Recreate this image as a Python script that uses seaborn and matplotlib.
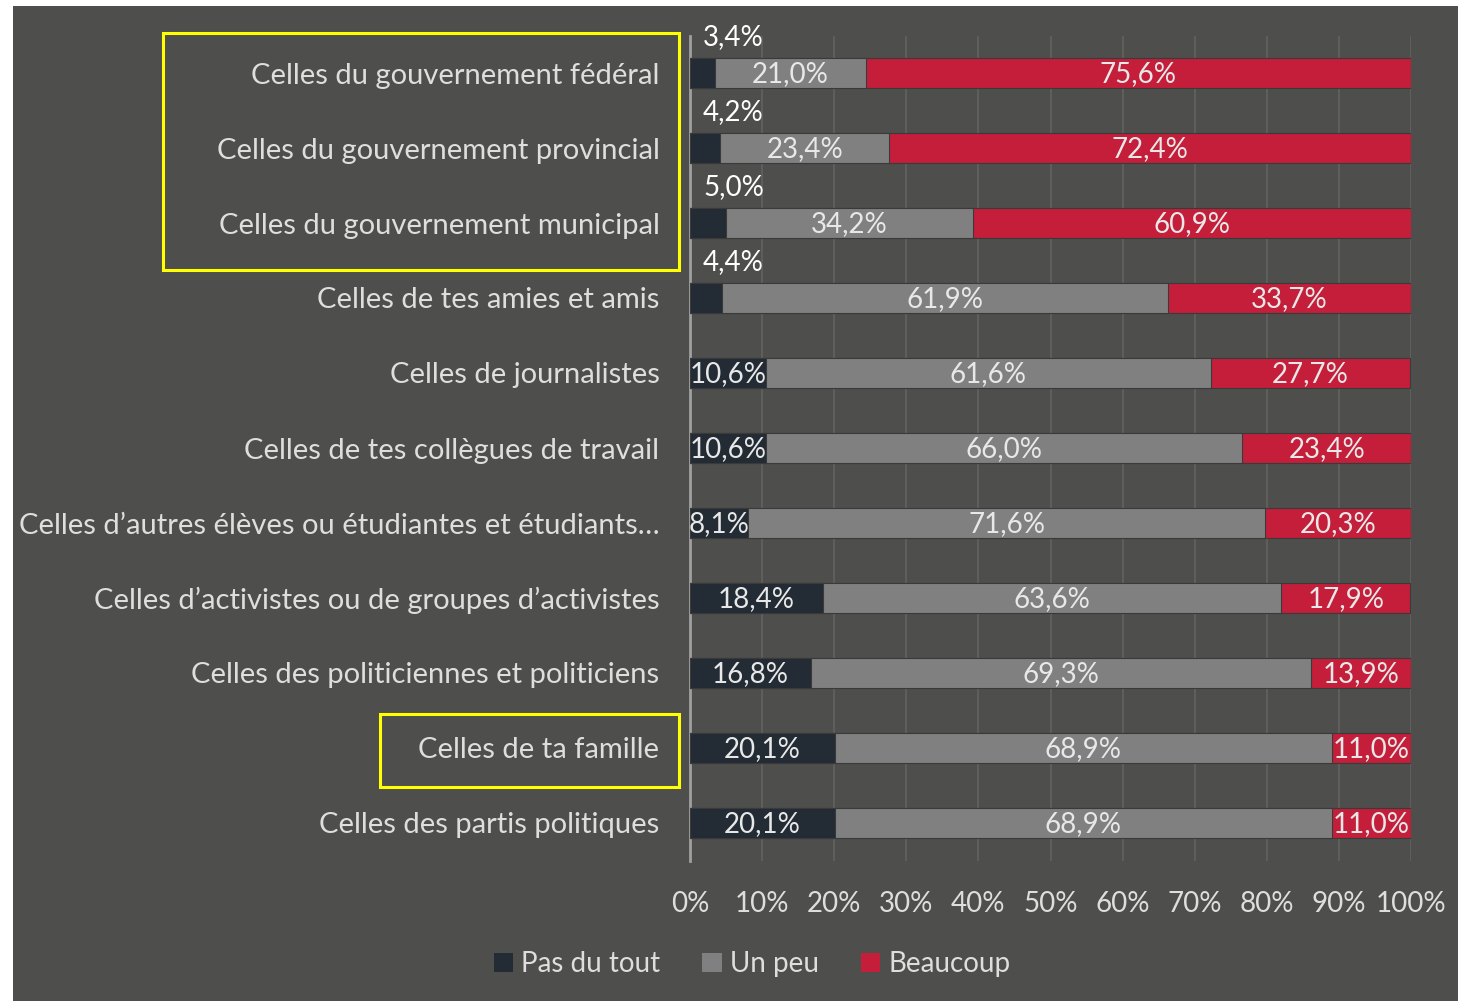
import matplotlib
matplotlib.use("Agg")
import matplotlib.pyplot as plt
from matplotlib.patches import Rectangle, Patch
import numpy as np
import pandas as pd
import seaborn as sns

# data
categories = [
    "Celles du gouvernement fédéral",
    "Celles du gouvernement provincial",
    "Celles du gouvernement municipal",
    "Celles de tes amies et amis",
    "Celles de journalistes",
    "Celles de tes collègues de travail",
    "Celles d’autres élèves ou étudiantes et étudiants…",
    "Celles d’activistes ou de groupes d’activistes",
    "Celles des politiciennes et politiciens",
    "Celles de ta famille",
    "Celles des partis politiques",
]
pas_du_tout = [3.4, 4.2, 5.0, 4.4, 10.6, 10.6, 8.1, 18.4, 16.8, 20.1, 20.1]
un_peu = [21.0, 23.4, 34.2, 61.9, 61.6, 66.0, 71.6, 63.6, 69.3, 68.9, 68.9]
beaucoup = [75.6, 72.4, 60.9, 33.7, 27.7, 23.4, 20.3, 17.9, 13.9, 11.0, 11.0]
series = ["Pas du tout", "Un peu", "Beaucoup"]
xticks = [0, 10, 20, 30, 40, 50, 60, 70, 80, 90, 100]

# settings
BG = "#4e4e4c"
TXT = "#dedede"
colors = ["#232b35", "#808080", "#c41e3a"]

sns.set_style("ticks")
plt.rcParams["font.family"] = ["Lato", "DejaVu Sans"]

df = pd.DataFrame({"cat": categories, "p": pas_du_tout, "u": un_peu, "b": beaucoup})
df["c1"] = df["p"]
df["c2"] = df["p"] + df["u"]
df["c3"] = df["p"] + df["u"] + df["b"]

fig = plt.figure(figsize=(14.58, 10.01), dpi=100)
fig.patch.set_facecolor("white")
fig.add_artist(Rectangle((13 / 1458, 0), 1, 1 - 6 / 1001, transform=fig.transFigure,
                         facecolor=BG, edgecolor="none", zorder=0))
ax = fig.add_axes([690 / 1458, 1 - 860.5 / 1001, 721 / 1458, 825 / 1001])
ax.set_facecolor(BG)

# stacked bars by overlaying cumulative totals
for col, c in zip(["c3", "c2", "c1"], colors[::-1]):
    sns.barplot(data=df, x=col, y="cat", orient="h", color=c, width=0.4,
                saturation=1, ax=ax, edgecolor="#3a3a3a", linewidth=0.8, zorder=3)

ax.set_xlim(0, 100)
ax.set_ylim(len(categories) - 0.5, -0.5)
ax.set_xticks(xticks)
ax.set_xticklabels([f"{t}%" for t in xticks])
ax.xaxis.grid(True, color="#62625f", linewidth=1.2, zorder=0)
ax.set_axisbelow(True)
ax.set_xlabel("")
ax.set_ylabel("")
for s in ["top", "right", "bottom"]:
    ax.spines[s].set_visible(False)
ax.spines["left"].set_color("#a0a0a0")
ax.spines["left"].set_linewidth(2)
ax.tick_params(axis="x", length=0, pad=22, labelsize=20, labelcolor=TXT)
ax.tick_params(axis="y", length=0, pad=22, labelsize=21, labelcolor=TXT)

# value labels
fmt = lambda v: f"{v:.1f}%".replace(".", ",")
for i in range(len(categories)):
    starts = [0, df["c1"][i], df["c2"][i]]
    vals = [df["p"][i], df["u"][i], df["b"][i]]
    for s, v in zip(starts, vals):
        if v < 6:
            ax.text(1.8, i - 0.48, fmt(v), ha="left", va="center",
                    fontsize=20, color="white", zorder=5)
        else:
            ax.text(s + v / 2, i + 0.02, fmt(v), ha="center", va="center",
                    fontsize=20, color="#e8e8e8", zorder=5)

# highlight boxes
fig.add_artist(Rectangle((163 / 1458, 1 - 270 / 1001), 516 / 1458, 237 / 1001,
                         transform=fig.transFigure, fill=False,
                         edgecolor="#ffff00", linewidth=2.2, zorder=6))
fig.add_artist(Rectangle((380 / 1458, 1 - 787 / 1001), 299 / 1458, 73 / 1001,
                         transform=fig.transFigure, fill=False,
                         edgecolor="#ffff00", linewidth=2.2, zorder=6))

handles = [Patch(facecolor=c, edgecolor="none") for c in colors]
fig.legend(handles, series, loc="center", bbox_to_anchor=(752 / 1458, 1 - 964 / 1001),
           ncol=3, frameon=False, fontsize=20, labelcolor=TXT,
           handlelength=0.7, handleheight=0.7, handletextpad=0.3, columnspacing=1.5)

fig.savefig("out.png", dpi=100, facecolor=fig.get_facecolor())
plt.close()
